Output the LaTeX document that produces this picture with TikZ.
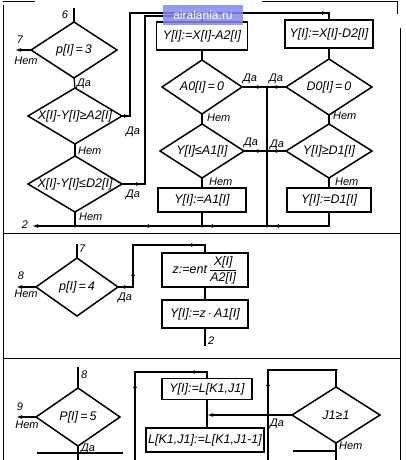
\documentclass[tikz,border=0pt]{standalone}
\usepackage{amsmath}
\usepackage{fontspec}
\setmainfont{Liberation Sans}
\usetikzlibrary{shapes.geometric,arrows.meta,decorations.markings}
\definecolor{wmblue}{RGB}{132,136,238}
\tikzset{
  txt/.style={font=\fontsize{12.5}{13.5}\selectfont\itshape, inner sep=0pt},
  lbl/.style={font=\fontsize{11}{12}\selectfont\itshape, inner sep=0pt},
  dia/.style={diamond, draw, line width=1.5pt, inner sep=0pt, outer sep=0pt},
  blk/.style={rectangle, draw, line width=1.8pt, inner sep=0pt, outer sep=0pt},
  con/.style={line width=1.2pt},
  frm/.style={line width=1pt},
  tip/.style={-{Latex[length=6pt,width=3.8pt]}},
  arr/.style={postaction={decorate,decoration={markings,mark=at position #1 with {\arrow{Latex[length=6pt,width=3.8pt]}}}}},
  jdot/.style={circle, fill, inner sep=0pt, minimum size=3.4pt},
}
\begin{document}
\begin{tikzpicture}[x=1pt,y=-1pt]
\useasboundingbox (0,0) rectangle (406,460);
% frame
\draw[frm] (3,5) -- (3,460);
\draw[frm] (400,28) -- (400,460);
\draw[frm] (3,233) -- (400,233);
\draw[frm] (3,358) -- (400,358);
\draw[frm] (3,2) -- (35,2);
\draw[frm] (262,2) -- (397,2) -- (397,14);

% ===== top section =====
\node[dia, minimum width=86pt, minimum height=56pt] (d1) at (74,50) {};
\node[txt] (d1t) at (d1) {p[I]\,=\,3};
\node[dia, minimum width=94pt, minimum height=56pt] (d2) at (75,116) {};
\node[txt] (d2t) at (d2) {X[I]-Y[I]≥A2[I]};
\node[dia, minimum width=94pt, minimum height=56pt] (d3) at (75,184) {};
\node[txt] (d3t) at (d3) {X[I]-Y[I]≤D2[I]};

\node[blk, minimum width=91pt, minimum height=28pt] (bA2) at (202,36) {};
\node[txt] (bA2t) at (bA2) {Y[I]:=X[I]-A2[I]};
\node[blk, minimum width=88pt, minimum height=28pt] (bD2) at (329,34) {};
\node[txt] (bD2t) at (bD2) {Y[I]:=X[I]-D2[I]};
\node[dia, minimum width=80pt, minimum height=54pt] (dA0) at (202,87) {};
\node[txt] (dA0t) at (dA0) {A0[I]\,=\,0};
\node[dia, minimum width=86pt, minimum height=56pt] (dD0) at (329,87) {};
\node[txt] (dD0t) at (dD0) {D0[I]\,=\,0};
\node[dia, minimum width=84pt, minimum height=54pt] (dA1) at (202,151) {};
\node[txt] (dA1t) at (dA1) {Y[I]≤A1[I]};
\node[dia, minimum width=86pt, minimum height=54pt] (dD1) at (329,151) {};
\node[txt] (dD1t) at (dD1) {Y[I]≥D1[I]};
\node[blk, minimum width=88pt, minimum height=24pt] (bA1) at (202,200) {};
\node[txt] (bA1t) at (bA1) {Y[I]:=A1[I]};
\node[blk, minimum width=84pt, minimum height=24pt] (bD1) at (329,200) {};
\node[txt] (bD1t) at (bD1) {Y[I]:=D1[I]};

% coordinates
\coordinate (t6) at (74,8);
\coordinate (o7) at (15,50);
\coordinate (c2a) at (130,116);
\coordinate (c2b) at (130,13);
\coordinate (c2c) at (329,13);
\coordinate (c3a) at (145,184);
\coordinate (c3b) at (145,16);
\coordinate (c3c) at (202,16);
\coordinate (J0) at (267,87);
\coordinate (J1) at (267,151);
\coordinate (J2) at (267,226);
\coordinate (J3) at (202,226);
\coordinate (J4) at (75,226);
\coordinate (cD1) at (329,226);
\coordinate (o2) at (32,226);

% connectors
\draw[con] (t6) -- (d1.north);
\draw[con,tip] (d1.west) -- (o7);
\draw[con] (d1.south) -- (d2.north);
\draw[con] (d2.south) -- (d3.north);
\draw[con,arr=8pt,arr=-8pt] (d2.east) -- (c2a) -- (c2b) -- (c2c) -- (bD2.north);
\draw[con,arr=20pt,arr=-16pt] (d3.east) -- (c3a) -- (c3b) -- (c3c) -- (bA2.north);
\draw[con] (d3.south) -- (J4);
\draw[con] (bA2.south) -- (dA0.north);
\draw[con] (bD2.south) -- (dD0.north);
\draw[con,arr=-4pt] (dA0.east) -- (J0);
\draw[con,arr=-4pt] (dD0.west) -- (J0);
\draw[con] (dA0.south) -- (dA1.north);
\draw[con] (dD0.south) -- (dD1.north);
\draw[con,arr=-4pt] (dA1.east) -- (J1);
\draw[con,arr=-4pt] (dD1.west) -- (J1);
\draw[con] (dA1.south) -- (bA1.north);
\draw[con] (dD1.south) -- (bD1.north);
\draw[con] (J0) -- (J1) -- (J2);
\draw[con] (bA1.south) -- (J3);
\draw[con,tip,arr=70pt,arr=136pt,arr=200pt] (bD1.south) -- (cD1) -- (J2) -- (J3) -- (J4) -- (o2);
\node[jdot] (jd0) at (J0) {};
\node[jdot] (jd1) at (J1) {};
\node[jdot] (jd2) at (J2) {};
\node[jdot] (jd3) at (J3) {};
\node[jdot] (jd4) at (J4) {};

% labels
\node[lbl] (l6) at (65,15) {6};
\node[lbl] (l7) at (20,40) {7};
\node[lbl] (n1) at (26,61) {Нет};
\node[lbl, anchor=west] (y1) at (77,84) {Да};
\node[lbl] (y2) at (133,132) {Да};
\node[lbl, anchor=west] (n2) at (78,151) {Нет};
\node[lbl] (y3) at (133,195) {Да};
\node[lbl, anchor=west] (n3) at (79,217) {Нет};
\node[lbl] (l2) at (25,225) {2};
\node[lbl] (yA0) at (250,79) {Да};
\node[lbl] (yD0) at (276,79) {Да};
\node[lbl, anchor=west] (nA0) at (207,118) {Нет};
\node[lbl, anchor=west] (nD0) at (333,116) {Нет};
\node[lbl] (yA1) at (251,143) {Да};
\node[lbl] (yD1) at (277,145) {Да};
\node[lbl, anchor=west] (nA1) at (209,182) {Нет};
\node[lbl, anchor=west] (nD1) at (335,182) {Нет};

% ===== middle section =====
\node[dia, minimum width=82pt, minimum height=58pt] (d4) at (77,287) {};
\node[txt] (d4t) at (d4) {p[I]\,=\,4};
\node[blk, minimum width=86pt, minimum height=34pt] (bz) at (205,270) {};
\node[txt] (bzt) at (bz) {z:=ent\,$\dfrac{\text{X[I]}}{\text{A2[I]}}$};
\node[blk, minimum width=86pt, minimum height=28pt] (bY) at (205,314) {};
\node[txt] (bYt) at (bY) {Y[I]:=z\,·\,A1[I]};
\coordinate (t7) at (77,244);
\coordinate (o8) at (16,287);
\coordinate (c4a) at (133,287);
\coordinate (c4b) at (133,245);
\coordinate (c4c) at (205,245);
\coordinate (o2b) at (205,346);
\draw[con] (t7) -- (d4.north);
\draw[con,tip] (d4.west) -- (o8);
\draw[con,arr=12pt,arr=32pt,arr=-16pt] (d4.east) -- (c4a) -- (c4b) -- (c4c) -- (bz.north);
\draw[con] (bz.south) -- (bY.north);
\draw[con] (bY.south) -- (o2b);
\node[lbl, anchor=west] (l7b) at (79,249) {7};
\node[lbl] (l8) at (21,276) {8};
\node[lbl] (n4) at (26,294) {Нет};
\node[lbl] (y4) at (125,298) {Да};
\node[lbl, anchor=west] (l2b) at (208,341) {2};

% ===== bottom section =====
\node[dia, minimum width=84pt, minimum height=58pt] (d5) at (78,417) {};
\node[txt] (d5t) at (d5) {P[I]\,=\,5};
\node[blk, minimum width=90pt, minimum height=21pt] (bL1) at (207,389) {};
\node[txt] (bL1t) at (bL1) {Y[I]:=L[K1,J1]};
\node[blk, minimum width=118pt, minimum height=24pt] (bL2) at (205,440) {};
\node[txt] (bL2t) at (bL2) {L[K1,J1]:=L[K1,J1-1]};
\node[dia, minimum width=88pt, minimum height=56pt] (dJ) at (336,415) {};
\node[txt] (dJt) at (dJ) {J1≥1};
\coordinate (t8) at (78,367);
\coordinate (o9) at (16,417);
\coordinate (b5) at (78,460);
\coordinate (e5a) at (37,453);
\coordinate (e5b) at (123,453);
\coordinate (lpa) at (135,460);
\coordinate (lpb) at (135,372);
\coordinate (lpc) at (207,372);
\coordinate (Jm) at (207,415);
\coordinate (lqa) at (268,460);
\coordinate (lqb) at (268,370);
\coordinate (lqc) at (336,370);
\coordinate (bJ) at (336,460);
\coordinate (eJa) at (293,451);
\coordinate (eJb) at (336,451);
\draw[con] (t8) -- (d5.north);
\draw[con,tip] (d5.west) -- (o9);
\draw[con] (d5.south) -- (b5);
\draw[con] (e5a) -- (e5b);
\draw[con,arr=78pt,arr=-14pt] (lpa) -- (lpb) -- (lpc) -- (bL1.north);
\draw[con] (bL1.south) -- (bL1.south |- bL2.north);
\draw[con,tip] (dJ.west) -- (Jm);
\draw[con,arr=80pt,arr=-12pt] (lqa) -- (lqb) -- (lqc) -- (dJ.north);
\draw[con] (dJ.south) -- (bJ);
\draw[con] (eJa) -- (eJb);
\node[lbl, anchor=west] (l8b) at (81,375) {8};
\node[lbl] (l9) at (20,407) {9};
\node[lbl] (n5) at (27,425) {Нет};
\node[lbl, anchor=west] (y5) at (81,449) {Да};
\node[lbl] (yJ) at (277,424) {Да};
\node[lbl, anchor=west] (nJ) at (339,446) {Нет};

% watermark
\node[fill=wmblue, fill opacity=0.85, text opacity=1, text=white, minimum width=80pt, minimum height=20pt, inner sep=0pt, font=\fontsize{12}{13}\selectfont] (wm) at (203,15) {airalania.ru};
\end{tikzpicture}
\end{document}
